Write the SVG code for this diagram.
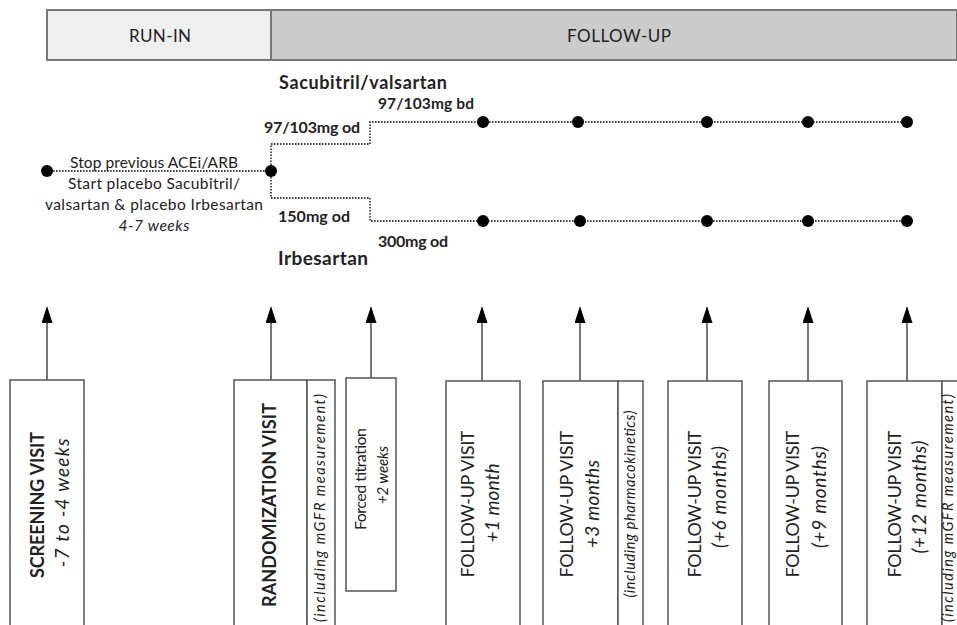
<svg xmlns="http://www.w3.org/2000/svg" width="957" height="625" viewBox="0 0 957 625">
<style>
text{font-family:Lato,"Open Sans","Liberation Sans",sans-serif;fill:#222}
.bar{stroke:#777;stroke-width:2}
.dot{stroke:#444;stroke-width:1.8;stroke-dasharray:1.6 1.4;fill:none}
.pt{fill:#000}
.box{fill:#fff;stroke:#555;stroke-width:1.5}
.arr{stroke:#555;stroke-width:1.6;fill:none}
.b{font-weight:bold}
.i{font-style:italic}
.m{text-anchor:middle}
</style>
<defs>
<marker id="ah" markerUnits="userSpaceOnUse" markerWidth="17" markerHeight="11" refX="15" refY="5.5" orient="auto">
<path d="M0,0 L17,5.5 L0,11 z" fill="#000"/>
</marker>
</defs>
<g id="phase-bar">
<rect class="bar" x="47" y="10" width="224" height="50" fill="#efefef"/>
<rect class="bar" x="271" y="10" width="686" height="50" fill="#cccccc"/>
<text class="m" x="160" y="42" font-size="17" textLength="62">RUN-IN</text>
<text class="m" x="619" y="42" font-size="17" textLength="104">FOLLOW-UP</text>
</g>
<g id="timeline">
<path class="dot" d="M47,171 H271"/>
<path class="dot" d="M271,171 V144 H370 V122 H907"/>
<path class="dot" d="M271,171 V198 H370 V221 H907"/>
<circle class="pt" cx="47" cy="171" r="6"/>
<circle class="pt" cx="271" cy="171" r="6"/>
<circle class="pt" cx="483" cy="122" r="6"/>
<circle class="pt" cx="578" cy="122" r="6"/>
<circle class="pt" cx="707" cy="122" r="6"/>
<circle class="pt" cx="808" cy="122" r="6"/>
<circle class="pt" cx="907" cy="122" r="6"/>
<circle class="pt" cx="483" cy="221" r="6"/>
<circle class="pt" cx="580" cy="221" r="6"/>
<circle class="pt" cx="707" cy="221" r="6"/>
<circle class="pt" cx="808" cy="221" r="6"/>
<circle class="pt" cx="907" cy="221" r="6"/>
</g>
<g id="timeline-labels">
<text class="b" x="279" y="89" font-size="18" textLength="168">Sacubitril/valsartan</text>
<text class="b" x="378" y="109" font-size="15.5" textLength="96">97/103mg bd</text>
<text class="b" x="264" y="133" font-size="16" textLength="96">97/103mg od</text>
<text class="b" x="278" y="222" font-size="16" textLength="72">150mg od</text>
<text class="b" x="378" y="247" font-size="16" textLength="70">300mg od</text>
<text class="b" x="278" y="265" font-size="19" textLength="90">Irbesartan</text>
<text class="m" x="154" y="168" font-size="15.5" textLength="168">Stop previous ACEi/ARB</text>
<text class="m" x="154" y="189" font-size="15.5" textLength="172">Start placebo Sacubitril/</text>
<text class="m" x="154" y="210" font-size="15.5" textLength="218">valsartan &amp; placebo Irbesartan</text>
<text class="m i" x="154" y="231" font-size="15.5" textLength="71">4-7 weeks</text>
</g>
<g id="connectors">
<line class="arr" x1="47" y1="380" x2="47" y2="308" marker-end="url(#ah)"/>
<line class="arr" x1="271" y1="380" x2="271" y2="308" marker-end="url(#ah)"/>
<line class="arr" x1="371" y1="378" x2="371" y2="308" marker-end="url(#ah)"/>
<line class="arr" x1="482" y1="381" x2="482" y2="308" marker-end="url(#ah)"/>
<line class="arr" x1="580" y1="381" x2="580" y2="308" marker-end="url(#ah)"/>
<line class="arr" x1="707" y1="381" x2="707" y2="308" marker-end="url(#ah)"/>
<line class="arr" x1="808" y1="381" x2="808" y2="308" marker-end="url(#ah)"/>
<line class="arr" x1="907" y1="381" x2="907" y2="308" marker-end="url(#ah)"/>
</g>
<g id="screening-visit">
<rect class="box" x="10" y="380" width="74" height="260"/>
<text class="m b" transform="translate(44,505) rotate(-90)" font-size="18" textLength="146">SCREENING VISIT</text>
<text class="m i" transform="translate(69,503) rotate(-90)" font-size="19" textLength="129">-7 to -4 weeks</text>
</g>
<g id="randomization-visit">
<rect class="box" x="234" y="380" width="73" height="260"/>
<rect class="box" x="307" y="380" width="28" height="260"/>
<text class="m b" transform="translate(276,505) rotate(-90)" font-size="18" textLength="204">RANDOMIZATION VISIT</text>
<text class="m i" transform="translate(325,508) rotate(-90)" font-size="14.5" textLength="228">(including mGFR measurement)</text>
</g>
<g id="forced-titration">
<rect class="box" x="346" y="378" width="50" height="213"/>
<text class="m" transform="translate(365.5,479) rotate(-90)" font-size="16" textLength="102">Forced titration</text>
<text class="m i" transform="translate(388,475) rotate(-90)" font-size="15" textLength="58">+2 weeks</text>
</g>
<g id="followup-1">
<rect class="box" x="446" y="381" width="74" height="260"/>
<text class="m" transform="translate(474,504) rotate(-90)" font-size="18" textLength="147">FOLLOW-UP VISIT</text>
<text class="m i" transform="translate(499,503) rotate(-90)" font-size="19" textLength="79">+1 month</text>
</g>
<g id="followup-3">
<rect class="box" x="543" y="381" width="75" height="260"/>
<rect class="box" x="618" y="381" width="25" height="260"/>
<text class="m" transform="translate(573,504) rotate(-90)" font-size="18" textLength="147">FOLLOW-UP VISIT</text>
<text class="m i" transform="translate(599,504) rotate(-90)" font-size="19" textLength="88">+3 months</text>
<text class="m i" transform="translate(635,504) rotate(-90)" font-size="14.5" textLength="187">(including pharmacokinetics)</text>
</g>
<g id="followup-6">
<rect class="box" x="668" y="381" width="74" height="260"/>
<text class="m" transform="translate(701,504) rotate(-90)" font-size="18" textLength="147">FOLLOW-UP VISIT</text>
<text class="m i" transform="translate(726,497) rotate(-90)" font-size="19" textLength="102">(+6 months)</text>
</g>
<g id="followup-9">
<rect class="box" x="769" y="381" width="73" height="260"/>
<text class="m" transform="translate(799,504) rotate(-90)" font-size="18" textLength="147">FOLLOW-UP VISIT</text>
<text class="m i" transform="translate(826,497) rotate(-90)" font-size="19" textLength="102">(+9 months)</text>
</g>
<g id="followup-12">
<rect class="box" x="867" y="381" width="75" height="260"/>
<rect class="box" x="942" y="381" width="28" height="260"/>
<text class="m" transform="translate(901,504) rotate(-90)" font-size="18" textLength="147">FOLLOW-UP VISIT</text>
<text class="m i" transform="translate(926,497) rotate(-90)" font-size="19" textLength="113">(+12 months)</text>
<text class="m i" transform="translate(953,508) rotate(-90)" font-size="14.5" textLength="228">(including mGFR measurement)</text>
</g>
</svg>
